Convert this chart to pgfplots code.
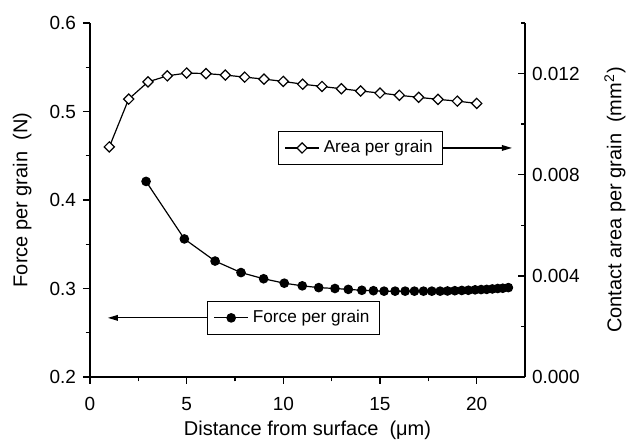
\documentclass[border=0pt]{standalone}
\usepackage{fontspec}
\setmainfont{Liberation Sans}
\usepackage{pgfplots}
\usepackage{pgfplotstable}
\pgfplotsset{compat=1.18}
\usetikzlibrary{arrows.meta}

\pgfplotstableread{
x y
2.90 0.421
4.88 0.356
6.47 0.331
7.81 0.318
8.98 0.311
10.05 0.306
10.98 0.303
11.83 0.301
12.67 0.300
13.36 0.299
14.06 0.298
14.66 0.2975
15.21 0.297
15.78 0.297
16.30 0.297
16.78 0.297
17.25 0.297
17.68 0.297
18.11 0.297
18.49 0.2972
18.87 0.2975
19.23 0.2978
19.57 0.298
19.92 0.2985
20.23 0.2988
20.52 0.299
20.81 0.2995
21.09 0.300
21.35 0.3003
21.64 0.301
}\forcedata

\pgfplotstableread{
x y
1 0.00910
2 0.01099
3 0.01167
4 0.01191
5 0.01202
6 0.01200
7 0.01194
8 0.01186
9 0.01178
10 0.01169
11 0.01158
12 0.01149
13 0.01140
14 0.01131
15 0.01123
16 0.01114
17 0.01106
18 0.01098
19 0.01091
20 0.01082
}\areadata

\pgfplotsset{
  common/.style={
    scale only axis, width=217.5pt, height=177pt,
    xmin=0, xmax=22.5,
    axis line style={line width=0.8pt, black},
    every tick/.append style={line width=0.7pt, black},
    major tick length=3.5pt, minor tick length=2.2pt,
    /pgf/number format/assume math mode=true,
    tick label style={font=\fontsize{9.5}{11}\selectfont},
    label style={font=\fontsize{10.5}{12}\selectfont},
    legend style={draw=black, line width=0.5pt, font=\fontsize{8.6}{10}\selectfont, inner xsep=3pt, inner ysep=2.5pt, anchor=west},
  }
}

\begin{document}
\begin{tikzpicture}
\useasboundingbox (-45pt,-33.5pt) rectangle (268.5pt,188.5pt);
\begin{axis}[
  common,
  ymin=0.2, ymax=0.6,
  axis x line*=bottom, axis y line*=left,
  tick align=outside,
  xtick={0,5,10,15,20}, minor xtick={2.5,7.5,12.5,17.5},
  ytick={0.2,0.3,0.4,0.5,0.6}, minor ytick={0.25,0.35,0.45,0.55},
  yticklabel style={/pgf/number format/.cd,fixed,fixed zerofill,precision=1},
  xticklabel style={yshift=-3pt},
  xlabel={Distance from surface\ \ (μm)},
  ylabel={Force per grain\ \ (N)},
  every axis x label/.style={at={(axis description cs:0.5,-0.152)},anchor=center},
  every axis y label/.style={at={(axis description cs:-0.156,0.5)},anchor=center,rotate=90},
  legend style={at={(axis description cs:0.269,0.167)}},
]
\addplot[black, line width=0.6pt, mark=*, mark size=2.1pt] table {\forcedata};
\addlegendentry{Force per grain}
\draw[line width=0.6pt, -{Triangle[length=5pt,width=2.8pt]}] (axis description cs:0.269,0.167) -- (axis description cs:0.041,0.167);
\end{axis}
\begin{axis}[
  common,
  ymin=0, ymax=0.014,
  hide x axis, axis y line*=right,
  tick align=inside,
  ytick={0,0.004,0.008,0.012}, minor ytick={0.002,0.006,0.010,0.014},
  scaled y ticks=false,
  yticklabel style={/pgf/number format/.cd,fixed,fixed zerofill,precision=3},
  ylabel={Contact area per grain\ \ (mm\textsuperscript{2})},
  every axis y label/.style={at={(axis description cs:1.207,0.5)},anchor=center,rotate=90},
  legend style={at={(axis description cs:0.432,0.647)}},
]
\addplot[black, line width=0.6pt, mark=square*, mark size=1.8pt, mark options={rotate=45, fill=white}] table {\areadata};
\addlegendentry{Area per grain}
\draw[line width=0.6pt, -{Triangle[length=5pt,width=2.8pt]}] (axis description cs:0.805,0.647) -- (axis description cs:0.970,0.647);
\end{axis}
\end{tikzpicture}
\end{document}
